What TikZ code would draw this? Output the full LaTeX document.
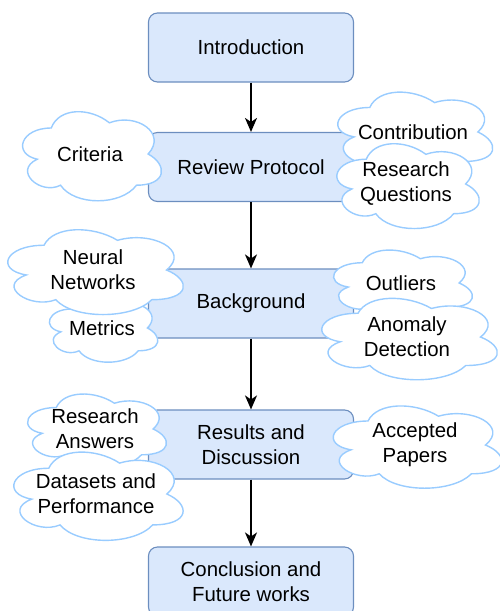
\documentclass[tikz,border=0pt]{standalone}
\usepackage{fontspec}
\setmainfont{Liberation Sans}
\usetikzlibrary{arrows.meta}
\definecolor{boxfill}{HTML}{DAE8FC}
\definecolor{boxline}{HTML}{6C8EBF}
\definecolor{puffblue}{HTML}{99CCFF}
\tikzset{
  secbox/.style    = {draw=boxline, fill=boxfill, rounded corners=9pt, line width=1.1pt,
                      minimum width=205pt, minimum height=69pt, inner sep=0pt,
                      align=center, font=\fontsize{20.4}{25}\selectfont},
  flow/.style      = {-{Stealth[length=14pt,width=12pt,inset=4pt]}, line width=1.6pt},
  puffstroke/.style= {draw=puffblue, fill=white, line width=1.4pt},
  pufftext/.style  = {align=center, inner sep=0pt, font=\fontsize{20.4}{25}\selectfont},
  % cloud of width #1 and height #2 round its text #3
  pics/puff/.style n args={3}{code={
    \draw[puffstroke]
      (-0.25*#1,-0.25*#2) .. controls (-0.45*#1,-0.25*#2) and (-0.5*#1,0) .. (-0.34*#1,0.05*#2)
                          .. controls (-0.5*#1,0.16*#2) and (-0.32*#1,0.4*#2) .. (-0.19*#1,0.3*#2)
                          .. controls (-0.1*#1,0.5*#2) and (0.2*#1,0.5*#2) .. (0.3*#1,0.3*#2)
                          .. controls (0.5*#1,0.3*#2) and (0.5*#1,0.1*#2) .. (0.375*#1,0)
                          .. controls (0.5*#1,-0.2*#2) and (0.3*#1,-0.4*#2) .. (0.125*#1,-0.3*#2)
                          .. controls (0,-0.45*#2) and (-0.2*#1,-0.45*#2) .. (-0.25*#1,-0.25*#2)
      -- cycle;
    \node[pufftext] (-txt) at (0,0) {#3};
  }},
}

\begin{document}
\begin{tikzpicture}[x=1pt, y=-1pt]
  \useasboundingbox (0,0) rectangle (500,611);

  % ---- the five sections ---------------------------------------------------
  \node[secbox] (intro)  at (251,47.5)  {Introduction};
  \node[secbox] (review) at (251,167)   {Review Protocol};
  \node[secbox] (backgr) at (251,303.5) {Background};
  \node[secbox] (result) at (251,444.5) {Results and\\Discussion};
  \node[secbox] (concl)  at (251,581.5) {Conclusion and\\Future works};

  \draw[flow] (intro)  -- (review);
  \draw[flow] (review) -- (backgr);
  \draw[flow] (backgr) -- (result);
  \draw[flow] (result) -- (concl);

  % ---- topics of each section ----------------------------------------------
  \pic (crit)  at (90,154)  {puff={155}{104}{Criteria}};
  \pic (contr) at (413,132) {puff={173}{98}{Contribution}};
  \pic (rq)    at (406,184) {puff={159}{99}{Research\\Questions}};

  \pic (metr)  at (102,328) {puff={121}{76}{Metrics}};
  \pic (neur)  at (93,270)  {puff={196}{99}{Neural\\Networks}};
  \pic (outl)  at (401,283) {puff={155}{81}{Outliers}};
  \pic (anom)  at (407,337) {puff={196}{95}{Anomaly\\Detection}};

  \pic (rans)  at (95,429)  {puff={155}{86}{Research\\Answers}};
  \pic (data)  at (96,494)  {puff={189}{103}{Datasets and\\Performance}};
  \pic (acc)   at (415,445) {puff={188}{96}{Accepted\\Papers}};
\end{tikzpicture}
\end{document}
